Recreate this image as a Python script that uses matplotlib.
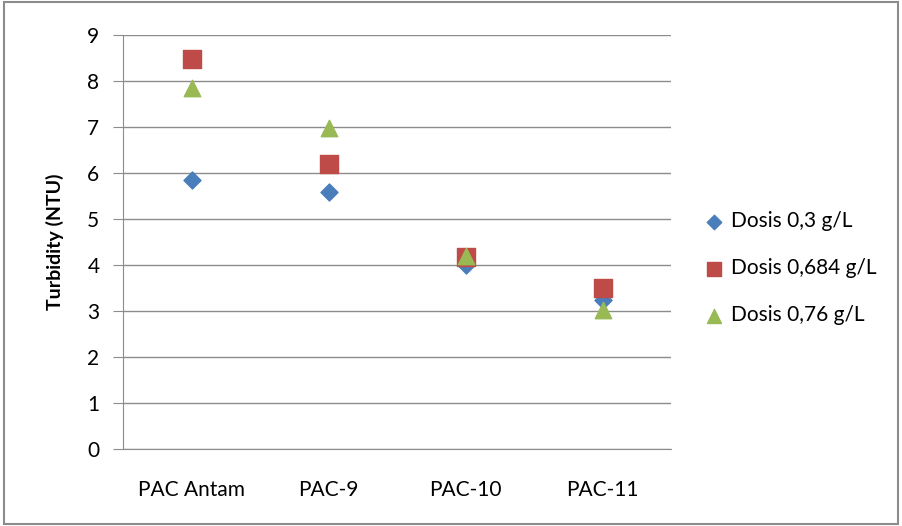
import matplotlib.pyplot as plt
from matplotlib.patches import Rectangle

plt.rcParams['font.family'] = ['Lato', 'DejaVu Sans']

# Turbidity after coagulation for each PAC type and dose
categories = ['PAC Antam', 'PAC-9', 'PAC-10', 'PAC-11']
dosis_03 = [5.85, 5.59, 4.0, 3.25]
dosis_0684 = [8.48, 6.2, 4.17, 3.5]
dosis_076 = [7.85, 6.98, 4.2, 3.02]

fig = plt.figure(figsize=(9.02, 5.26), dpi=100)
ax = fig.add_axes([0.1364, 0.146, 0.6075, 0.787])

x = range(len(categories))
ax.scatter(x, dosis_03, marker='D', s=75, color='#4a7ebb', label='Dosis 0,3 g/L', zorder=3)
ax.scatter(x, dosis_0684, marker='s', s=150, color='#be4b48', label='Dosis 0,684 g/L', zorder=3)
ax.scatter(x, dosis_076, marker='^', s=140, color='#98b954', label='Dosis 0,76 g/L', zorder=3)

ax.set_xlim(-0.5, 3.5)
ax.set_ylim(0, 9)
ax.set_yticks(range(10))
ax.set_xticks(list(x))
ax.set_xticklabels(categories)
ax.yaxis.grid(True, color='#8c8c8c', linewidth=1)
ax.set_axisbelow(True)
for side in ['top', 'right']:
    ax.spines[side].set_visible(False)
ax.spines['left'].set_color('#8c8c8c')
ax.spines['bottom'].set_color('#8c8c8c')
ax.tick_params(axis='y', length=7, color='#8c8c8c', labelsize=15, pad=10)
ax.tick_params(axis='x', length=0, labelsize=15, pad=22)
ax.set_ylabel('Turbidity (NTU)', fontsize=14, fontweight='bold', labelpad=17)

ax.legend(loc='center left', bbox_to_anchor=(1.045, 0.437), frameon=False,
          fontsize=15, handlelength=1.0, handletextpad=0.3, labelspacing=1.3,
          markerscale=0.85, borderaxespad=0)

# outer chart border
fig.patches.append(Rectangle((0.004, 0.004), 0.992, 0.992, transform=fig.transFigure,
                             fill=False, edgecolor='#8c8c8c', linewidth=1.5))

fig.savefig('out.png', dpi=100)
